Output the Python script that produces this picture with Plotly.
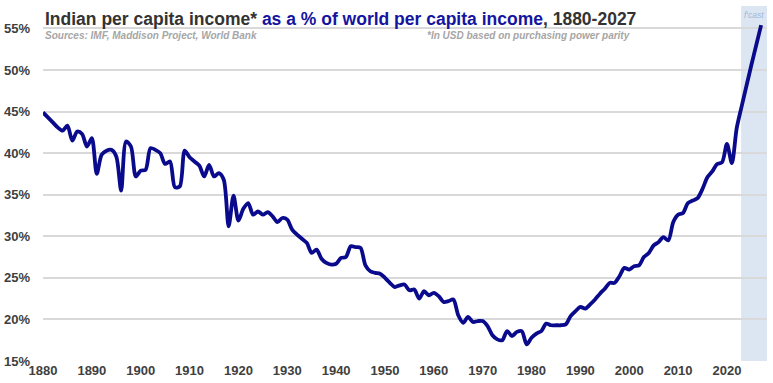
import plotly.graph_objects as go

years = list(range(1880, 2028))
share_pct = [
    44.9, 44.3, 43.7, 43.1, 42.7, 43.3, 41.5, 42.6, 42.3, 40.8,   # 1880-1889
    41.8, 37.5, 39.8, 40.3, 40.4, 39.6, 35.5, 41.4, 40.8, 37.2,   # 1890-1899
    37.9, 38.0, 40.6, 40.4, 40.0, 38.7, 39.0, 35.9, 36.0, 40.3,   # 1900-1909
    39.5, 39.0, 38.5, 37.2, 38.6, 37.2, 37.6, 36.8, 31.2, 34.9,   # 1910-1919
    31.9, 33.3, 34.0, 32.6, 33.0, 32.6, 32.9, 32.4, 31.7, 32.2,   # 1920-1929
    32.0, 30.8, 30.2, 29.7, 29.2, 28.0, 28.4, 27.3, 26.8, 26.6,   # 1930-1939
    26.7, 27.4, 27.5, 28.8, 28.7, 28.6, 26.5, 25.8, 25.6, 25.5,   # 1940-1949
    25.0, 24.4, 23.9, 24.1, 24.2, 23.5, 23.6, 22.5, 23.4, 22.9,   # 1950-1959
    23.2, 22.8, 22.1, 22.2, 22.4, 20.5, 19.6, 20.3, 19.7, 19.8,   # 1960-1969
    19.8, 19.2, 18.1, 17.6, 17.5, 18.6, 18.0, 18.5, 18.6, 17.0,   # 1970-1979
    17.8, 18.3, 18.6, 19.5, 19.3, 19.3, 19.3, 19.4, 20.4, 21.0,   # 1980-1989
    21.5, 21.3, 21.8, 22.4, 23.1, 23.7, 24.4, 24.4, 25.2, 26.2,   # 1990-1999
    26.0, 26.4, 26.5, 27.5, 28.0, 28.9, 29.3, 29.9, 29.5, 31.7,   # 2000-2009
    32.6, 32.8, 34.0, 34.3, 34.6, 35.7, 37.1, 37.8, 38.7, 38.9,   # 2010-2019
    41.1, 38.8, 43.0, 45.6, 48.1, 50.6, 53.0, 55.4,               # 2020-2027
]
x_ticks = list(range(1880, 2021, 10))
y_ticks = [15, 20, 25, 30, 35, 40, 45, 50, 55]
forecast_start = 2022.9
x_range = [1880, 2028.2]
y_range = [15, 57.7]

FONT = "Liberation Sans, Arial, sans-serif"

fig = go.Figure()
fig.add_trace(go.Scatter(
    x=years, y=share_pct, mode="lines",
    line=dict(color="#0a0a8c", width=3.8, shape="spline", smoothing=0.8),
    hoverinfo="x+y", showlegend=False,
))

fig.add_shape(type="rect", xref="x", yref="paper",
              x0=forecast_start, x1=x_range[1], y0=0, y1=1,
              fillcolor="#dce6f2", line_width=0, layer="below")

fig.add_annotation(xref="x", yref="paper", x=(forecast_start + x_range[1]) / 2, y=0.975,
                   text="f'cast", showarrow=False,
                   font=dict(family=FONT, size=8.5, color="#9fb6d6", style="italic"),
                   xanchor="center", yanchor="middle")

fig.add_annotation(xref="paper", yref="paper", x=0.0, y=0.963, xanchor="left", yanchor="middle",
                   showarrow=False,
                   text=("<span style='color:#333333'>Indian per capita income*</span> "
                         "<span style='color:#1414a0'>as a % of world per capita income</span>"
                         "<span style='color:#333333'>, 1880-2027</span>"),
                   font=dict(family=FONT, size=17.5, weight="bold", color="#333333"))

fig.add_annotation(xref="paper", yref="paper", x=0.0, y=0.918, xanchor="left", yanchor="middle",
                   showarrow=False, text="Sources: IMF, Maddison Project, World Bank",
                   font=dict(family=FONT, size=10, color="#a6a6a6", style="italic", weight="bold"))

fig.add_annotation(xref="paper", yref="paper", x=(632 - 43.3) / 724, y=0.918, xanchor="right", yanchor="middle",
                   showarrow=False, text="*In USD based on purchasing power parity",
                   font=dict(family=FONT, size=10, color="#a6a6a6", style="italic", weight="bold"))

fig.update_layout(
    width=773, height=383,
    margin=dict(l=43, r=6, t=6, b=22),
    paper_bgcolor="white", plot_bgcolor="white",
    font=dict(family=FONT),
    xaxis=dict(range=x_range, tickvals=x_ticks, ticktext=[str(v) for v in x_ticks],
               showgrid=False, zeroline=False, showline=False, ticks="",
               automargin=False, ticklabelstandoff=0,
               tickfont=dict(family=FONT, size=13, color="#404040", weight="bold")),
    yaxis=dict(range=y_range, tickvals=y_ticks, ticktext=[f"{v}%" for v in y_ticks],
               showgrid=True, gridcolor="#d9d9d9", gridwidth=1.5, zeroline=False,
               showline=False, ticks="", ticklabelstandoff=12, automargin=False,
               tickfont=dict(family=FONT, size=13, color="#404040", weight="bold")),
)

fig.write_html("out.html", config={"displayModeBar": False},
               post_script="document.body.style.margin='0';document.body.style.overflow='hidden';")
